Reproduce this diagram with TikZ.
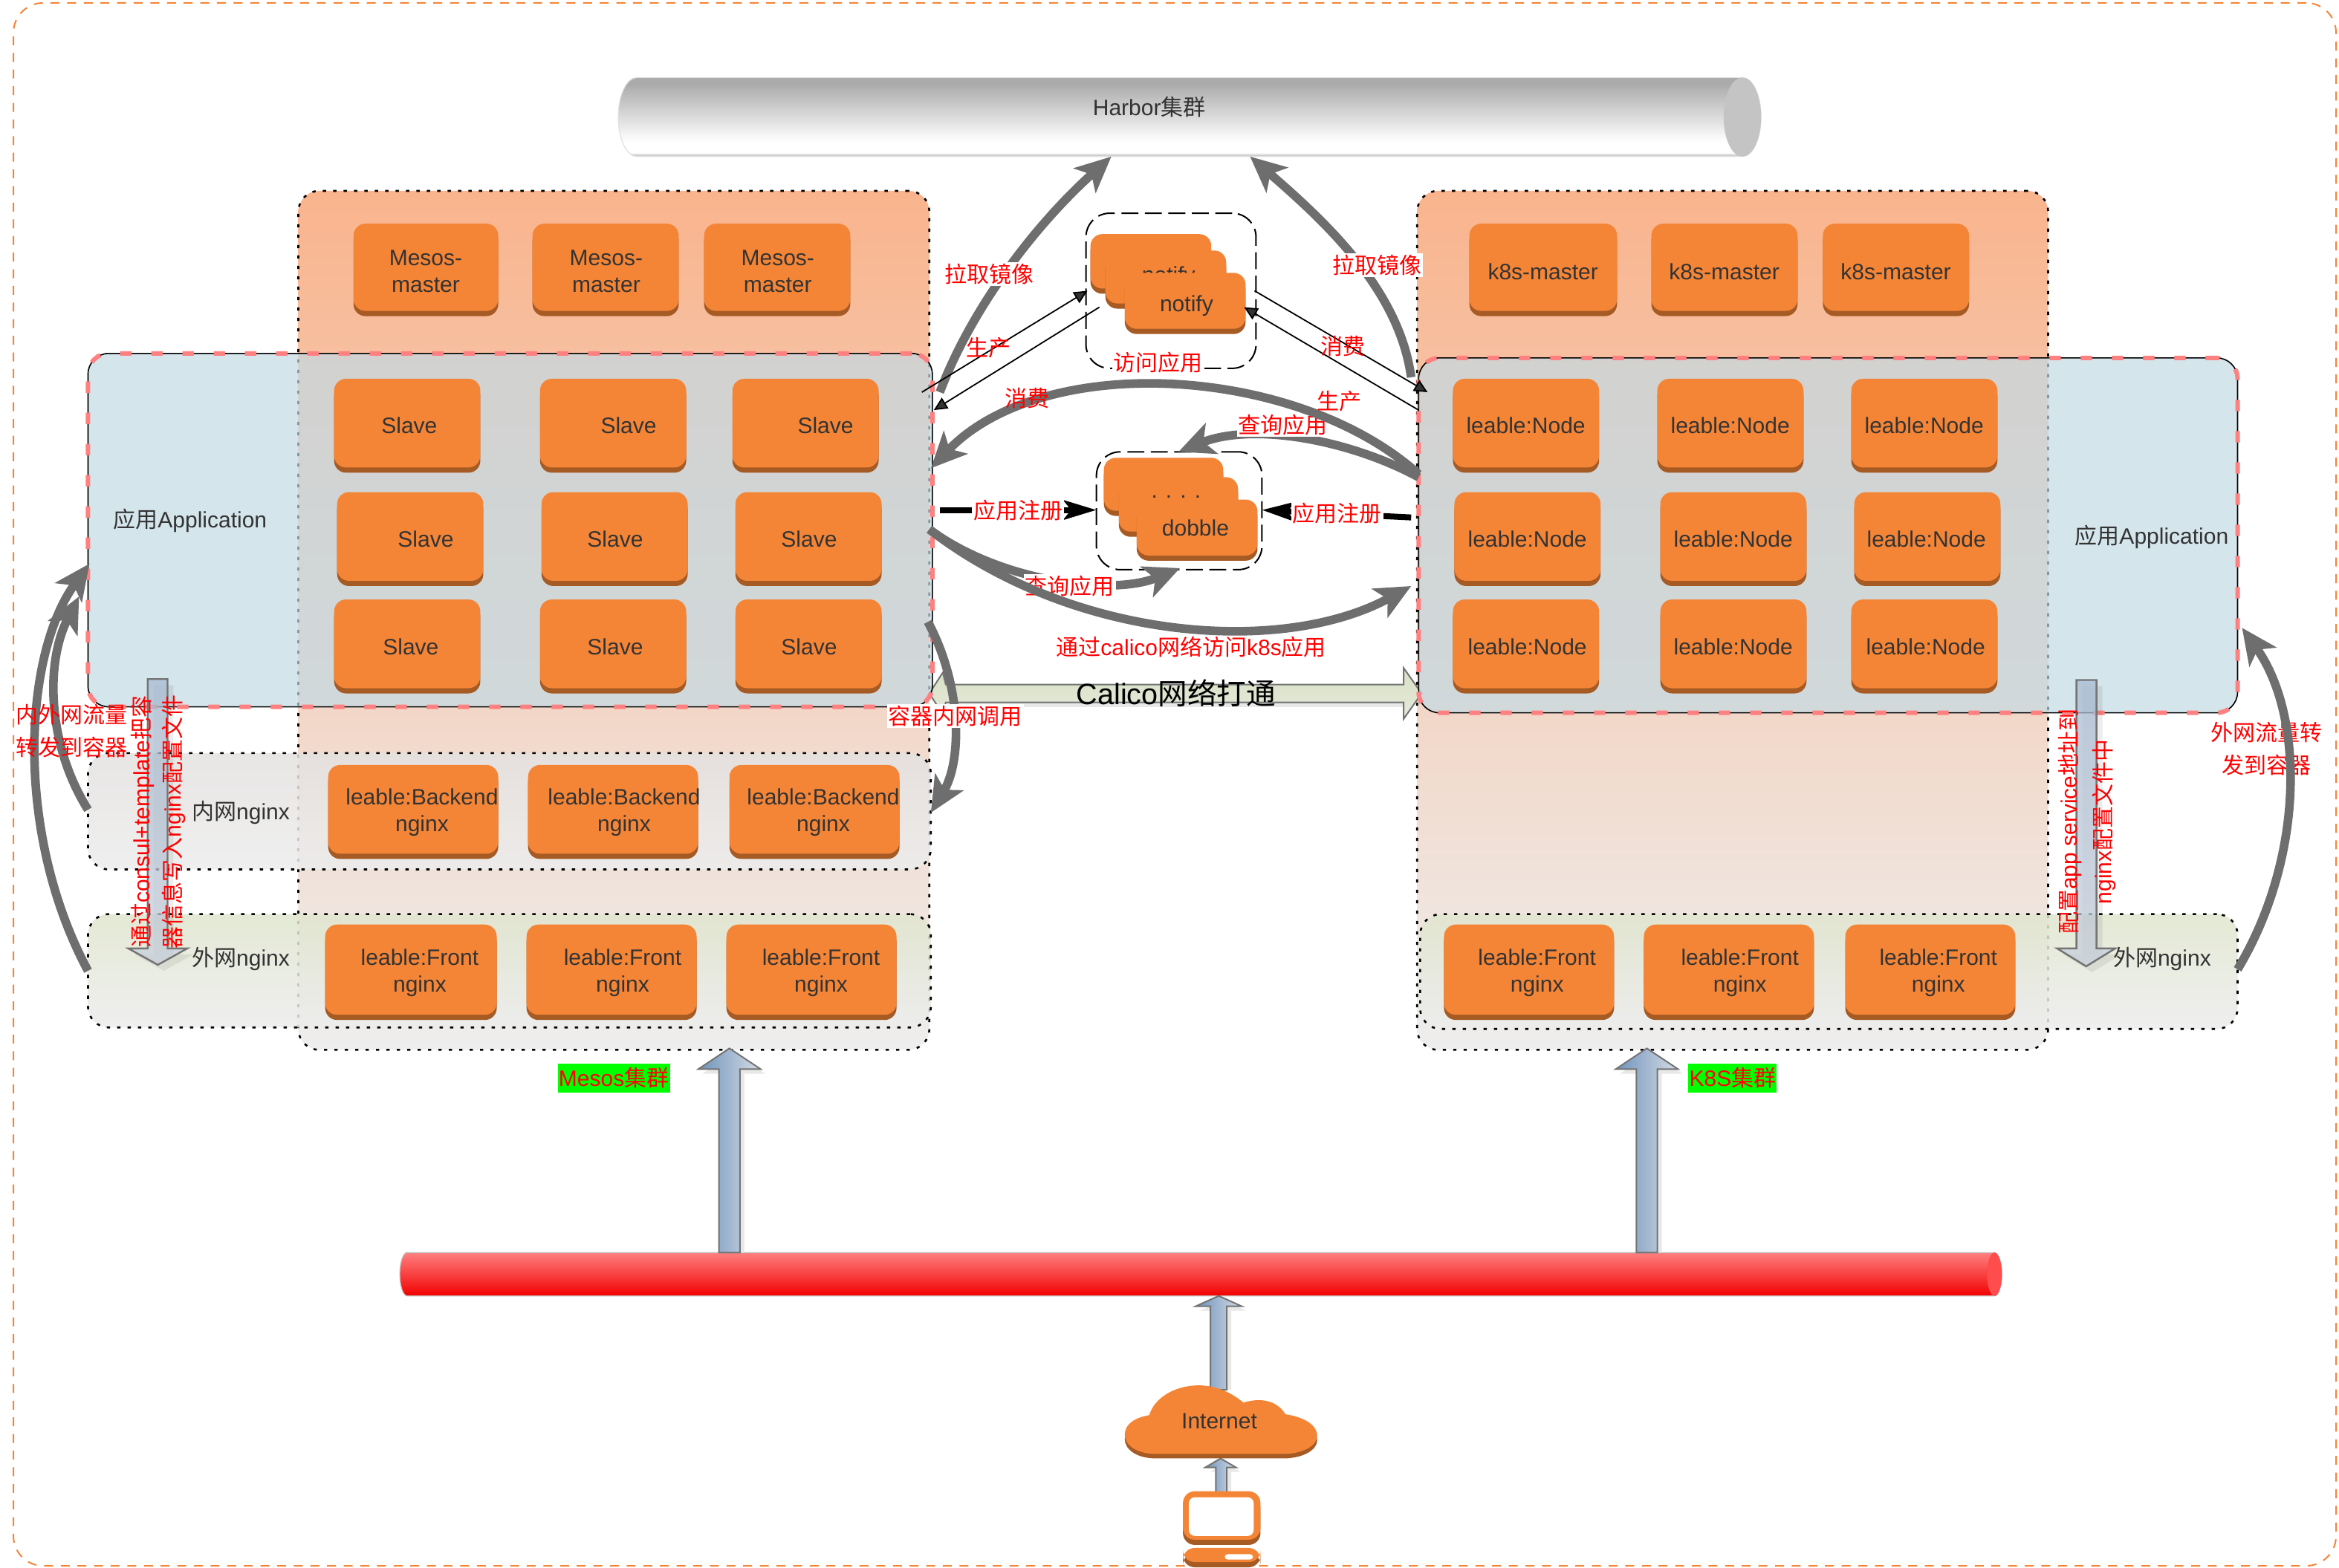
\documentclass[tikz,border=0pt]{standalone}
\usepackage{fontspec}
\setmainfont{Liberation Sans}
\newfontfamily\cjk{Noto Sans CJK SC}
\newcommand{\zh}[1]{{\cjk #1}}
\usetikzlibrary{arrows.meta}
\definecolor{oface}{HTML}{F58536}
\definecolor{odark}{HTML}{A65A24}
\definecolor{ink}{HTML}{333333}
\definecolor{thick}{HTML}{6E6E6E}
\definecolor{pinkd}{HTML}{FF8080}
\definecolor{appfill}{HTML}{C3DAE4}
\definecolor{clusttop}{HTML}{F9B48D}
\definecolor{clustbot}{HTML}{EEEEEE}
\definecolor{blueL}{HTML}{6F93BB}
\definecolor{blueR}{HTML}{D5DCE6}
\definecolor{ngxgreen}{HTML}{E0E6CE}
\definecolor{ngxgrey}{HTML}{EDEDED}
\definecolor{ngxtan}{HTML}{E4E2E0}
\definecolor{caltop}{HTML}{D8E0C4}
\definecolor{calbot}{HTML}{E6EADC}
\definecolor{downtop}{HTML}{A9BBD2}
\definecolor{downbot}{HTML}{C8D0DC}
\pgfdeclareverticalshading{harbshade}{100bp}{color(0bp)=(black!30);color(25bp)=(black!30);color(27.5bp)=(white);color(34.5bp)=(white);color(71bp)=(black!33);color(100bp)=(black!33)}
\tikzset{
  x=0.5019pt,y=-0.5019pt,
  base/.style={font=\fontsize{7.5}{9}\selectfont,text=ink,align=center,inner sep=0pt,xshift=.2pt},
  orangebox/.style={fill=oface,rounded corners=4pt,inner sep=0pt,
     preaction={fill=odark,transform canvas={yshift=-1.75pt}}},
  dotline/.style={draw=black,dash pattern=on 1.1pt off 2.4pt,line width=.65pt,rounded corners=7pt},
  cluster/.style={dotline,top color=clusttop,bottom color=clustbot,inner sep=0pt},
  appbox/.style={draw=black,line width=.4pt,rounded corners=7pt,fill=appfill,fill opacity=.7,inner sep=0pt,
     postaction={draw=pinkd,line width=1.5pt,dash pattern=on 3.8pt off 6.7pt,draw opacity=1}},
  ingx/.style={dotline,top color=ngxtan,bottom color=ngxgrey,fill opacity=.85,draw opacity=1,inner sep=0pt},
  ongx/.style={dotline,top color=ngxgreen,bottom color=ngxgrey,fill opacity=.85,draw opacity=1,inner sep=0pt},
  groupbox/.style={draw=black,line width=.5pt,dash pattern=on 5.7pt off 2.2pt,rounded corners=8pt,inner sep=0pt},
  lab/.style={font=\fontsize{7.5}{11}\selectfont,text=red,align=center,inner sep=.5pt},
  labw/.style={lab,fill=white},
  thickar/.style={draw=thick,line width=2.9pt,-{Stealth[length=12pt,width=11pt,inset=3pt]}},
  thinar/.style={draw=black,line width=.45pt,-{Stealth[length=4.5pt,width=4.2pt,inset=0pt,fill=ink]}},
  regar/.style={draw=black,line width=2pt,-{Stealth[length=11pt,width=6.5pt,inset=2.5pt]}},
  fatar/.style={draw=black!55,line width=.5pt,left color=blueL,right color=blueR},
  fatshadow/.style={fill=black!9},
}
\newcommand{\obox}[8]{%
  \pgfmathsetmacro{\cxv}{(#2+#4)/2}%
  \pgfmathsetmacro{\cyv}{(#3+#5-3.5)/2}%
  \pgfmathsetmacro{\wv}{(#4-#2)*0.5019}%
  \pgfmathsetmacro{\hv}{(#5-#3-3.5)*0.5019}%
  \pgfmathsetmacro{\tyv}{(#3+#5)/2+#7}%
  \node[orangebox,minimum width=\wv pt,minimum height=\hv pt] (#1) at (\cxv,\cyv) {};
  \node[base] (#1t) at (#6,\tyv) {#8};
}
\newcommand{\pane}[6]{%
  \pgfmathsetmacro{\cxv}{(#3+#5)/2}%
  \pgfmathsetmacro{\cyv}{(#4+#6)/2}%
  \pgfmathsetmacro{\wv}{(#5-#3)*0.5019}%
  \pgfmathsetmacro{\hv}{(#6-#4)*0.5019}%
  \node[#1,minimum width=\wv pt,minimum height=\hv pt] (#2) at (\cxv,\cyv) {};
}
\newcommand{\uparr}[7]{% xL xR headL headR tip base bottom
  \fill[fatshadow] (#1+3,#7) -- (#1+3,#6+3) -- (#3+3,#6+3) -- ({(#3+#4)/2+3},#5+3) -- (#4+3,#6+3) -- (#2+3,#6+3) -- (#2+3,#7) -- cycle;
  \draw[fatar] (#1,#7) -- (#1,#6) -- (#3,#6) -- ({(#3+#4)/2},#5) -- (#4,#6) -- (#2,#6) -- (#2,#7) -- cycle;
}
\newcommand{\downarr}[7]{% xL xR headL headR top base tip
  \fill[black,fill opacity=.07] (#1+4,#5+4) -- (#1+4,#6+4) -- (#3+4,#6+4) -- ({(#3+#4)/2+4},#7+4) -- (#4+4,#6+4) -- (#2+4,#6+4) -- (#2+4,#5+4) -- cycle;
  \draw[draw=black!55,line width=.6pt,top color=downtop,bottom color=downbot,fill opacity=.75,draw opacity=1]
    (#1,#5) -- (#1,#6) -- (#3,#6) -- ({(#3+#4)/2},#7) -- (#4,#6) -- (#2,#6) -- (#2,#5) -- cycle;
}
\begin{document}
\begin{tikzpicture}
\useasboundingbox (0,0) rectangle (1568,1051.2);
\fill[white] (0,0) rectangle (1568,1051.2);
% outer frame
\pane{draw=oface,line width=.5pt,dash pattern=on 3pt off 2.6pt,rounded corners=10pt,inner sep=0pt}{frame}{9}{2}{1566}{1050}
% harbor
\path[shading=harbshade,draw=black!12,line width=.3pt]
  (427,52) -- (1168,52) arc[start angle=90,end angle=-90,x radius=6.3pt,y radius=13.3pt]
  -- (427,105) arc[start angle=270,end angle=90,x radius=6.3pt,y radius=13.3pt] -- cycle;
\fill[black!23] (1168,78.5) ellipse[x radius=6.3pt,y radius=13.3pt];
\node[base] (harbor) at (770,72) {Harbor\zh{集群}};
% clusters
\pane{cluster}{mesos}{200}{128}{623}{704}
\pane{cluster}{k8s}{950}{128}{1373}{704}
% calico arrow
\fill[black!9] (634,471)--(941,471)--(941,474)--(634,474)--cycle;
\draw[draw=black!55,line width=.5pt,top color=caltop,bottom color=calbot]
  (623,465) -- (632,451) -- (634,459) -- (941,459) -- (941,448) -- (953,465) -- (941,482) -- (941,471) -- (634,471) -- (632,479) -- cycle;
% application and nginx panes
\pane{ingx}{inngxl}{59}{505}{624}{583}
\pane{ongx}{outngxl}{59}{613}{624}{689}
\pane{ongx}{outngxr}{952}{613}{1500}{690}
\pane{appbox}{appl}{59}{237}{625}{474}
\pane{appbox}{appr}{951}{240}{1500}{478}
\node[base] (applabl) at (127,349) {\zh{应用}Application};
\node[base] (applabr) at (1442,360) {\zh{应用}Application};
\node[base] (inlab) at (161,545) {\zh{内网}nginx};
\node[base] (outlabl) at (161,643) {\zh{外网}nginx};
\node[base] (outlabr) at (1449,643) {\zh{外网}nginx};
% masters
\obox{mm1}{237}{150}{334}{212}{285}{1}{Mesos-\\master}
\obox{mm2}{357}{150}{455}{212}{406}{1}{Mesos-\\master}
\obox{mm3}{472}{150}{570}{212}{521}{1}{Mesos-\\master}
\obox{km1}{985}{150}{1084}{212}{1034}{1}{k8s-master}
\obox{km2}{1107}{150}{1205}{212}{1155.5}{1}{k8s-master}
\obox{km3}{1222}{150}{1320}{212}{1270.5}{1}{k8s-master}
% slaves
\obox{s11}{224}{254}{322}{317}{274}{0}{Slave}
\obox{s12}{362}{254}{460}{317}{421}{0}{Slave}
\obox{s13}{491}{254}{589}{317}{553}{0}{Slave}
\obox{s21}{226}{330}{324}{393}{285}{0}{Slave}
\obox{s22}{363}{330}{461}{393}{412}{0}{Slave}
\obox{s23}{493}{330}{591}{393}{542}{0}{Slave}
\obox{s31}{224}{402}{322}{465}{275}{0}{Slave}
\obox{s32}{362}{402}{460}{465}{412}{0}{Slave}
\obox{s33}{493}{402}{591}{465}{542}{0}{Slave}
% k8s nodes
\obox{n11}{974}{254}{1072}{317}{1022.5}{0}{leable:Node}
\obox{n12}{1111}{254}{1209}{317}{1159.5}{0}{leable:Node}
\obox{n13}{1241}{254}{1339}{317}{1289.5}{0}{leable:Node}
\obox{n21}{975}{330}{1073}{393}{1023.5}{0}{leable:Node}
\obox{n22}{1113}{330}{1211}{393}{1161.5}{0}{leable:Node}
\obox{n23}{1243}{330}{1341}{393}{1291}{0}{leable:Node}
\obox{n31}{974}{402}{1072}{465}{1023.5}{0}{leable:Node}
\obox{n32}{1113}{402}{1211}{465}{1161.5}{0}{leable:Node}
\obox{n33}{1241}{402}{1339}{465}{1290.5}{0}{leable:Node}
% nginx boxes
\obox{b1}{220}{513}{334}{576}{282.5}{0.5}{leable:Backend\\nginx}
\obox{b2}{354}{513}{468}{576}{418}{0.5}{leable:Backend\\nginx}
\obox{b3}{489}{513}{603}{576}{551.5}{0.5}{leable:Backend\\nginx}
\obox{f1}{218}{620}{333}{684}{281}{0.5}{leable:Front\\nginx}
\obox{f2}{353}{620}{467}{684}{417}{0.5}{leable:Front\\nginx}
\obox{f3}{487}{620}{601}{684}{550}{0.5}{leable:Front\\nginx}
\obox{f4}{968}{620}{1082}{684}{1030}{0.5}{leable:Front\\nginx}
\obox{f5}{1102}{620}{1216}{684}{1166}{0.5}{leable:Front\\nginx}
\obox{f6}{1237}{620}{1351}{684}{1299}{0.5}{leable:Front\\nginx}
% notify group
\pane{groupbox}{notifyg}{728}{143}{842}{247}
\obox{no1}{731}{157}{812}{197}{771}{0}{}
\obox{no2}{741}{168}{822}{207}{783}{-2}{notify}
\obox{no3}{754}{183}{835}{224}{795}{1.5}{notify}
% dobble group
\pane{groupbox}{dobbleg}{735}{303}{846}{382}
\obox{do1}{740}{307}{820}{346}{780}{0}{}
\obox{do2}{750}{320}{830}{360}{788}{-7}{. . . .}
\obox{do3}{762}{335}{843}{376}{801}{-1.5}{dobble}
% bar
\shade[top color=red!50!white,bottom color=red!95!black,draw=black!25,line width=.3pt]
  (273,840) -- (1337,840) arc[start angle=90,end angle=-90,x radius=2.5pt,y radius=7.3pt]
  -- (273,869) arc[start angle=270,end angle=90,x radius=2.5pt,y radius=7.3pt] -- cycle;
\fill[red!70!white] (1337,854.5) ellipse[x radius=2.5pt,y radius=7.3pt];
% up arrows
\uparr{482}{496}{468}{510}{703}{717}{840}
\uparr{1097}{1111}{1083}{1125}{703}{717}{840}
\uparr{811.4}{822.4}{801.5}{832.5}{869}{876}{932}
\uparr{815}{822.4}{808}{828.5}{978}{984}{1002}
% cloud
\path[fill=oface,preaction={fill=odark,transform canvas={yshift=-1.5pt}}]
  (775,975) .. controls (762,975) and (754,969) .. (754,962)
  .. controls (754,955) and (761,950.5) .. (770.4,949)
  .. controls (774,937) and (788,929) .. (803.6,929)
  .. controls (815,929) and (826,934) .. (833.5,940.6)
  .. controls (845,937) and (856,939) .. (861.7,948.4)
  .. controls (873,950) and (883,955) .. (883,963)
  .. controls (883,969) and (874,975) .. (860,975) -- cycle;
\node[base] (internet) at (817,953) {Internet};
% computer
\obox{scr}{793}{1000}{845}{1036}{819}{0}{}
\node[fill=white,rounded corners=2pt,minimum width=21.8pt,minimum height=13pt,inner sep=0pt] (scrin) at (818.7,1017) {};
\obox{pc}{793}{1038}{845}{1051}{819}{0}{}
\node[fill=white,rounded corners=1pt,minimum width=9.5pt,minimum height=1.8pt,inner sep=0pt] (pcslot) at (830.5,1044) {};
% down arrows
\downarr{99}{112.3}{86}{125.6}{455.4}{636}{647}
\downarr{1392}{1405.4}{1379}{1418}{456}{636}{648}
% coordinates for connector ends
\coordinate (pullLs) at (630,263);
\coordinate (pullLe) at (745,105);
\coordinate (pullRs) at (946,253);
\coordinate (pullRe) at (838,105);
\coordinate (prodLs) at (618,263);
\coordinate (prodLe) at (729,195);
\coordinate (consLs) at (737,206);
\coordinate (consLe) at (626,275);
\coordinate (consRs) at (841,195);
\coordinate (consRe) at (957,263);
\coordinate (prodRs) at (951,275);
\coordinate (prodRe) at (834,206);
\coordinate (consBs) at (951,318);
\coordinate (consBe) at (624,314);
\coordinate (qryTs) at (951,320);
\coordinate (qryTe) at (790,303);
\coordinate (regLs) at (630,342);
\coordinate (regLe) at (735,342);
\coordinate (regRs) at (946,347);
\coordinate (regRe) at (846,342);
\coordinate (qryBs) at (623,355);
\coordinate (qryBe) at (791,381);
\coordinate (calS) at (623,355);
\coordinate (calE) at (946,393);
\coordinate (innS) at (622,417);
\coordinate (innE) at (624,545);
\coordinate (trafAs) at (59,651);
\coordinate (trafAe) at (60,378);
\coordinate (trafBs) at (59,543);
\coordinate (trafBe) at (53,400);
\coordinate (trafCs) at (1500,650);
\coordinate (trafCe) at (1503,421);
% connectors
\draw[thickar] (pullLs) .. controls (652,205) and (695,150) .. (pullLe);
\draw[thickar] (pullRs) .. controls (938,195) and (890,150) .. (pullRe);
\draw[thinar] (prodLs) -- (prodLe);
\draw[thinar] (consLs) -- (consLe);
\draw[thinar] (consRs) -- (consRe);
\draw[thinar] (prodRs) -- (prodRe);
\draw[thickar] (qryTs) .. controls (905,295) and (840,283) .. (qryTe);
\node[labw] (lqt) at (860,285) {\zh{查询应用}};
\draw[thickar] (consBs) .. controls (870,245) and (700,235) .. (consBe);
\draw[regar] (regLs) -- (regLe);
\draw[regar] (regRs) -- (regRe);
\draw[thickar] (qryBs) .. controls (670,390) and (745,400) .. (qryBe);
\node[labw] (lqb) at (717,393) {\zh{查询应用}};
\draw[thickar] (calS) .. controls (720,430) and (860,440) .. (calE);
\draw[thickar] (innS) .. controls (645,460) and (645,510) .. (innE);
\draw[thickar] (trafAs) .. controls (10,560) and (15,440) .. (trafAe);
\draw[thickar] (trafBs) .. controls (32,500) and (30,445) .. (trafBe);
\node[lab] (ltr2) at (1519.5,502) {\zh{外网流量转}\\\zh{发到容器}};
\draw[thickar] (trafCs) .. controls (1545,575) and (1545,480) .. (trafCe);
% labels
\node[labw] (lp1) at (663,184) {\zh{拉取镜像}};
\node[labw] (lp2) at (923,178) {\zh{拉取镜像}};
\node[lab] (lprod1) at (662.5,233) {\zh{生产}};
\node[lab] (lcons1) at (900.5,232) {\zh{消费}};
\node[lab] (lcons2) at (688.5,267) {\zh{消费}};
\node[lab] (lprod2) at (898,269) {\zh{生产}};
\node[labw] (lvisit) at (776.5,243) {\zh{访问应用}};
\node[labw] (lreg1) at (682.5,342) {\zh{应用注册}};
\node[labw] (lreg2) at (896.5,344) {\zh{应用注册}};
\node[lab] (lcal) at (798.5,434) {\zh{通过}calico\zh{网络访问}k8s\zh{应用}};
\node[labw] (linn) at (640.5,480) {\zh{容器内网调用}};
\node[base,text=black,font=\fontsize{9.9}{12}\selectfont] (lcalico) at (788,465) {Calico\zh{网络打通}};
\node[lab] (ltr1) at (48,490) {\zh{内外网流量}\\\zh{转发到容器}};
\node[lab,rotate=90,font=\fontsize{7.5}{10.5}\selectfont] (lrotl) at (106,551) {\zh{通过}consul+template\zh{把容}\\\zh{器信息写入}nginx\zh{配置文件}};
\node[lab,rotate=90,font=\fontsize{7.5}{11.5}\selectfont] (lrotr) at (1399,551) {\zh{配置}app service\zh{地址到}\\nginx\zh{配置文件中}};
\node[lab,fill=green,inner xsep=.3pt,inner ysep=1.5pt] (lmesos) at (411.5,723) {Mesos\zh{集群}};
\node[lab,fill=green,inner xsep=.3pt,inner ysep=1.5pt] (lk8s) at (1161.5,723) {K8S\zh{集群}};
\end{tikzpicture}
\end{document}
